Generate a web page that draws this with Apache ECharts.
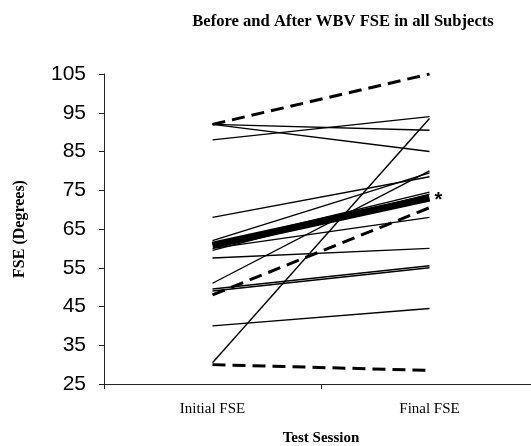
<!DOCTYPE html>
<html>
<head>
<meta charset="utf-8">
<script src="https://cdn.jsdelivr.net/npm/echarts@6/dist/echarts.min.js"></script>
<style>
html,body{margin:0;padding:0;background:#fff;}
#c{width:531px;height:446px;}
</style>
</head>
<body>
<div id="c"></div>
<script>
const categories = ['Initial FSE', 'Final FSE'];
const yTicks = [25, 35, 45, 55, 65, 75, 85, 95, 105];
// individual subjects (solid thin lines)
const subjectInitial = [92, 92, 88, 68, 62, 51, 61, 59.5, 60, 57.5, 49.5, 49, 40, 30.5];
const subjectFinal   = [90.5, 85, 94, 78.5, 79.5, 80, 74.5, 74, 68, 60, 55.5, 55, 44.5, 93.5];
// dashed lines
const dashedInitial = [92, 48, 30];
const dashedFinal   = [105, 70.5, 28.5];
// group mean (thick line)
const meanValues = [60.8, 73];

const series = [];
subjectInitial.forEach((v, i) => {
  series.push({
    type: 'line', data: [v, subjectFinal[i]], symbol: 'none', silent: true,
    lineStyle: { color: '#000', width: 1.4 }, z: 2
  });
});
dashedInitial.forEach((v, i) => {
  series.push({
    type: 'line', data: [v, dashedFinal[i]], symbol: 'none', silent: true,
    lineStyle: { color: '#000', width: 3, type: [13, 7] }, z: 3
  });
});
series.push({
  type: 'line', symbol: 'none', silent: true, z: 4,
  lineStyle: { color: '#000', width: 7 },
  data: meanValues,
  endLabel: { show: true, formatter: '*', color: '#000', fontSize: 20, fontWeight: 'bold',
              fontFamily: 'Liberation Sans', distance: 5, offset: [0, 2] }
});

const chart = echarts.init(document.getElementById('c'), null, { renderer: 'canvas' });
chart.setOption({
  backgroundColor: '#fff',
  animation: false,
  title: {
    text: 'Before and After WBV FSE in all Subjects',
    left: 338, top: 8, textAlign: 'center',
    textStyle: { fontFamily: 'Liberation Serif', fontWeight: 'bold', fontSize: 16.6, color: '#000' }
  },
  grid: { left: 104, top: 74, width: 434, height: 310, containLabel: false, outerBoundsMode: 'none' },
  xAxis: {
    type: 'category', data: categories, boundaryGap: true,
    name: 'Test Session', nameLocation: 'middle', nameGap: 47,
    nameTextStyle: { fontFamily: 'Liberation Serif', fontWeight: 'bold', fontSize: 15, color: '#000' },
    axisLine: { lineStyle: { color: '#222', width: 1 } },
    axisTick: { show: true, length: 5, lineStyle: { color: '#222' } },
    axisLabel: { fontFamily: 'Liberation Serif', fontSize: 15, color: '#000', margin: 18 },
    splitLine: { show: false }
  },
  yAxis: {
    type: 'value', min: 25, max: 105, interval: 10,
    name: 'FSE (Degrees)', nameLocation: 'middle', nameGap: 76, nameRotate: 90,
    nameTextStyle: { fontFamily: 'Liberation Serif', fontWeight: 'bold', fontSize: 16, color: '#000' },
    axisLine: { show: true, lineStyle: { color: '#222', width: 1 } },
    axisTick: { show: true, length: 5, lineStyle: { color: '#222' } },
    axisLabel: { fontFamily: 'Liberation Sans', fontSize: 21, color: '#000', margin: 18,
                 formatter: v => (yTicks.indexOf(v) >= 0 ? String(v) : '') },
    splitLine: { show: false }
  },
  series: series
});
</script>
</body>
</html>
